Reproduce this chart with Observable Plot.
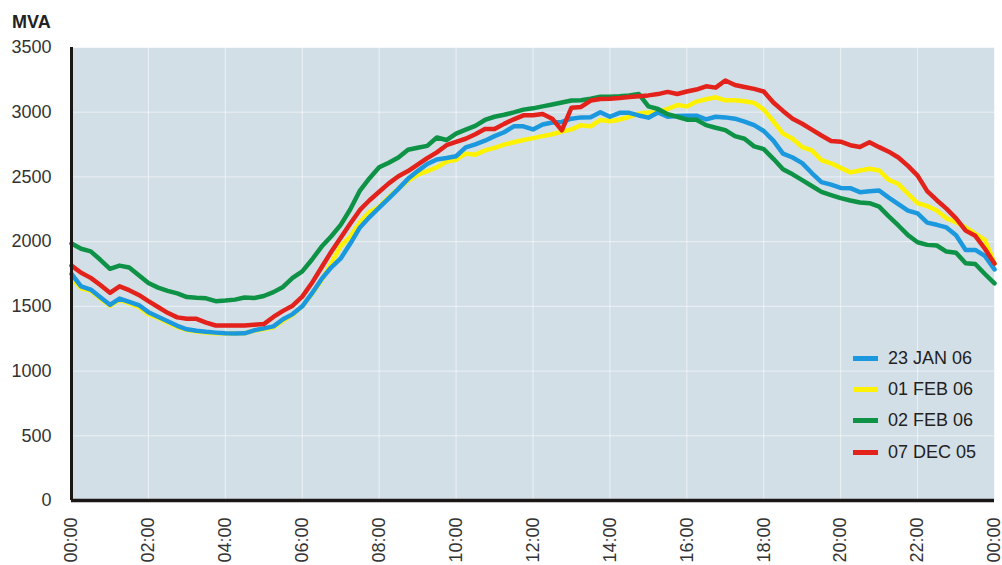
<!DOCTYPE html>
<html>
<head>
<meta charset="utf-8">
<script src="https://cdn.jsdelivr.net/npm/d3@7"></script>
<script src="https://cdn.jsdelivr.net/npm/@observablehq/plot@0.6"></script>
<style>
  html, body { margin: 0; padding: 0; background: #ffffff; }
  #wrap { position: relative; width: 1002px; height: 565px; overflow: hidden; font-family: "Liberation Sans", Arial, sans-serif; }
  #unit { position: absolute; left: 12px; top: 13px; font: bold 18px/18px "Liberation Sans", Arial, sans-serif; color: #222; }
  .lg { position: absolute; left: 853px; height: 20px; display: flex; align-items: center; font: 18px "Liberation Sans", Arial, sans-serif; color: #222; white-space: nowrap; }
  .lg span.sw { display: inline-block; width: 25px; height: 5px; margin-right: 10px; }
</style>
</head>
<body>
<div id="wrap"></div>
<script>
// ---- data (MVA, every 15 minutes from 00:00 to 24:00) ----
const seriesNames = ["23 JAN 06", "01 FEB 06", "02 FEB 06", "07 DEC 05"];
const seriesColors = ["#1b98de", "#fff200", "#0e9246", "#e2221b"];
const hours = d3.range(97).map(i => i / 4);
const xTicks = [0, 2, 4, 6, 8, 10, 12, 14, 16, 18, 20, 22, 24];
const yTicks = [0, 500, 1000, 1500, 2000, 2500, 3000, 3500];

const jan23 = [1750,1655,1630,1570,1512,1560,1535,1510,1455,1420,
  1385,1350,1323,1312,1303,1297,1292,1291,1292,1315,
  1330,1345,1400,1440,1500,1600,1710,1800,1870,1985,
  2110,2190,2262,2335,2408,2485,2545,2600,2635,2646,
  2660,2728,2752,2780,2815,2845,2891,2891,2867,2905,
  2920,2925,2950,2960,2962,3000,2965,2995,2995,2975,
  2958,2998,2965,2970,2973,2973,2945,2965,2960,2950,
  2928,2900,2855,2780,2680,2650,2607,2530,2460,2440,
  2415,2413,2382,2390,2395,2340,2290,2240,2218,2147,
  2130,2110,2050,1936,1936,1890,1786];
const feb01 = [1720,1640,1620,1560,1505,1550,1525,1495,1440,1410,
  1375,1340,1318,1305,1298,1293,1290,1290,1292,1312,
  1325,1338,1390,1435,1500,1595,1700,1830,1965,2040,
  2150,2230,2270,2345,2410,2470,2518,2545,2575,2618,
  2633,2680,2672,2705,2725,2750,2768,2785,2800,2815,
  2830,2850,2867,2900,2891,2940,2930,2942,2965,2990,
  2997,3000,3025,3055,3045,3082,3100,3115,3092,3092,
  3085,3072,3020,2930,2835,2795,2730,2705,2630,2605,
  2570,2535,2550,2563,2550,2478,2445,2370,2297,2275,
  2240,2180,2150,2110,2060,2013,1833];
const feb02 = [1985,1945,1925,1860,1790,1815,1800,1740,1680,1645,
  1620,1600,1572,1566,1562,1540,1545,1552,1568,1564,
  1580,1610,1650,1720,1770,1860,1960,2040,2130,2250,
  2395,2490,2575,2610,2650,2710,2725,2740,2805,2785,
  2835,2865,2895,2940,2965,2980,2999,3020,3030,3045,
  3060,3075,3090,3092,3105,3120,3120,3123,3130,3141,
  3045,3025,2985,2965,2942,2942,2900,2880,2862,2815,
  2795,2736,2715,2640,2560,2520,2475,2430,2385,2360,
  2336,2318,2302,2297,2271,2195,2125,2050,1995,1975,
  1970,1923,1915,1833,1827,1750,1678];
const dec07 = [1815,1760,1720,1665,1605,1655,1625,1588,1540,1495,
  1450,1415,1405,1404,1375,1352,1352,1352,1353,1358,
  1363,1418,1465,1505,1575,1680,1800,1920,2030,2140,
  2245,2320,2385,2450,2505,2545,2595,2645,2690,2745,
  2770,2795,2830,2870,2870,2910,2945,2976,2976,2986,
  2950,2860,3035,3041,3090,3102,3104,3110,3118,3124,
  3130,3140,3157,3141,3160,3175,3200,3190,3245,3210,
  3195,3180,3160,3075,3010,2950,2911,2865,2820,2778,
  2772,2745,2731,2768,2730,2695,2650,2585,2510,2390,
  2320,2255,2180,2085,2045,1945,1830];

const seriesValues = [jan23, feb01, feb02, dec07];
// draw order: yellow, blue, green, red
const drawOrder = [1, 0, 2, 3];
const rows = drawOrder.flatMap(k => hours.map((h, i) => ({h, v: seriesValues[k][i], s: seriesNames[k]})));

const fmt = d => String(d % 24).padStart(2, "0") + ":00";

const chart = Plot.plot({
  width: 1002,
  height: 565,
  marginLeft: 71,
  marginRight: 8,
  marginTop: 47,
  marginBottom: 65,
  style: {background: "transparent", fontFamily: "'Liberation Sans', Arial, sans-serif", fontSize: "18px", color: "#333"},
  x: {domain: [0, 24], label: null},
  y: {domain: [0, 3500], label: null},
  color: {domain: seriesNames, range: seriesColors},
  marks: [
    Plot.frame({fill: "#d3dfe7", stroke: null}),
    Plot.gridX(xTicks, {stroke: "#ffffff", strokeOpacity: 0.55, strokeWidth: 1}),
    Plot.gridY(yTicks, {stroke: "#ffffff", strokeOpacity: 0.55, strokeWidth: 1}),
    Plot.axisX(xTicks, {tickFormat: fmt, tickSize: 0, tickPadding: 17, tickRotate: -90, fontSize: 18, fill: "#333", label: null}),
    Plot.axisY(yTicks, {tickSize: 0, tickPadding: 20, fontSize: 18, fill: "#333", label: null, tickFormat: d => String(d)}),
    Plot.lineY(rows, {x: "h", y: "v", z: "s", stroke: "s", strokeWidth: 4.5, strokeLinejoin: "round"}),
    Plot.ruleX([0], {stroke: "#1a1716", strokeWidth: 3}),
    Plot.ruleY([0], {stroke: "#1a1716", strokeWidth: 3.5})
  ]
});

const wrap = document.getElementById("wrap");
wrap.appendChild(chart);

const unit = document.createElement("div");
unit.id = "unit";
unit.textContent = "MVA";
wrap.appendChild(unit);

const legendCenters = [358.5, 389.7, 420.9, 452.1];
seriesNames.forEach((name, k) => {
  const row = document.createElement("div");
  row.className = "lg";
  row.style.top = (legendCenters[k] - 10) + "px";
  const sw = document.createElement("span");
  sw.className = "sw";
  sw.style.background = seriesColors[k];
  row.appendChild(sw);
  const t = document.createElement("span");
  t.textContent = name;
  row.appendChild(t);
  wrap.appendChild(row);
});
</script>
</body>
</html>
